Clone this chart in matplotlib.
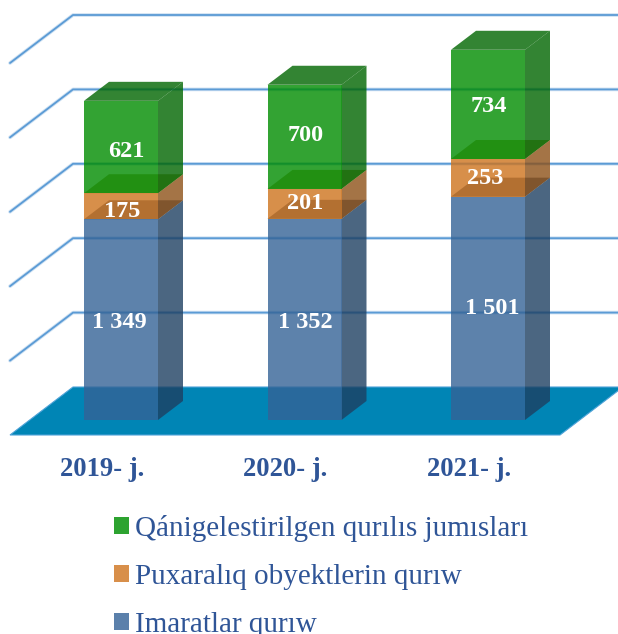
"""
Stacked 3D-look column chart of construction volumes.
"""

import matplotlib.pyplot as plt
from matplotlib.patches import Patch, Polygon

plt.rcParams['font.family'] = ['Liberation Serif', 'DejaVu Serif']

years = ['2019- j.', '2020- j.', '2021- j.']
buildings = [1349, 1352, 1501]
civil_objects = [175, 201, 253]
improvement_works = [621, 700, 734]
series_names = ['Imaratlar qurıw', 'Puxaralıq obyektlerin qurıw',
                'Qánigelestirilgen qurılıs jumısları']
grid_values = [500, 1000, 1500, 2000, 2500]

front_colors = [(52/255, 99/255, 150/255), (206/255, 115/255, 29/255), (0, 140/255, 0)]
side_colors = [(30/255, 64/255, 98/255), (142/255, 81/255, 24/255), (0, 102/255, 0)]
top_colors = [(30/255, 68/255, 100/255), (150/255, 140/255, 50/255), (0, 102/255, 0)]
legend_colors = ['#5b80ab', '#d88f4a', '#2da330']
text_blue = '#2f5597'
grid_blue = '#5b9bd5'

# Label nudges in pixels (right, up), per series then per year
label_nudges = [[(-2, -3), (1, -3), (4, 0)],
                [(1, -5), (1, 0), (-3, -1)],
                [(5, -4), (1, 1), (1, -2)]]

# Pixels per category step and per value unit
x_px = 183.5
y_px = 0.1488
bar_width = 74 / x_px
depth_x = 25 / x_px
depth_y = 19 / y_px

fig = plt.figure(figsize=(6.18, 6.34), dpi=100)
# Axes span the whole figure: x is the category index, y the value
ax = fig.add_axes([0, 0, 1, 1])
ax.set_xlim(-121 / x_px, 497 / x_px)
ax.set_ylim(-214 / y_px, 420 / y_px)
ax.axis('off')

# Floor and gridlines on the back and left walls
floor_left = -111 / x_px
floor_right = 439 / x_px
floor_front = -15 / y_px
wall_x = floor_left + 63 / x_px
wall_y = floor_front + 48 / y_px
ax.add_patch(Polygon([(floor_left, floor_front), (floor_right, floor_front),
                      (floor_right + 63 / x_px, wall_y), (wall_x, wall_y)],
                     facecolor='#0085b5', edgecolor='#4fa3d8', lw=0.8, zorder=1))
for value in grid_values:
    xs = [floor_left, wall_x, 497 / x_px]
    ys = [floor_front + value, wall_y + value, wall_y + value]
    ax.plot(xs, ys, color=grid_blue, lw=2.6, alpha=0.3, zorder=1, solid_capstyle='round')
    ax.plot(xs, ys, color=grid_blue, lw=1.3, zorder=1, solid_capstyle='round')

# Stacked boxes, lower segment first so the upper one sits over its top face
stacks = [buildings, civil_objects, improvement_works]
for i in range(len(years)):
    left = i - bar_width / 2
    right = i + bar_width / 2
    bottom = 0
    for s, values in enumerate(stacks):
        top = bottom + values[i]
        ax.add_patch(Polygon([(left, top), (right, top), (right + depth_x, top + depth_y),
                              (left + depth_x, top + depth_y)],
                             facecolor=top_colors[s], edgecolor='none', alpha=0.8, zorder=3 + s))
        ax.add_patch(Polygon([(right, bottom), (right + depth_x, bottom + depth_y),
                              (right + depth_x, top + depth_y), (right, top)],
                             facecolor=side_colors[s], edgecolor='none', alpha=0.8, zorder=3 + s))
        ax.add_patch(Polygon([(left, bottom), (right, bottom), (right, top), (left, top)],
                             facecolor=front_colors[s], edgecolor='none', alpha=0.8, zorder=3 + s))
        nudge = label_nudges[s][i]
        ax.annotate(format(values[i], ',').replace(',', ' '), (i, bottom + values[i] / 2),
                    xytext=(nudge[0] * 0.72, nudge[1] * 0.72), textcoords='offset points',
                    color='white', fontsize=17.5, fontweight='bold', ha='center', va='center', zorder=10)
        bottom = top
    ax.text(i - 19 / x_px, -49 / y_px, years[i], color=text_blue, fontsize=19.2, fontweight='bold',
            ha='center', va='center')

handles = [Patch(facecolor=legend_colors[s], edgecolor='none') for s in (2, 1, 0)]
labels = [series_names[s] for s in (2, 1, 0)]
ax.legend(handles, labels, loc='lower left', bbox_to_anchor=(102 / 618, -16 / 634),
          frameon=False, prop={'size': 21}, labelcolor=text_blue, handlelength=0.52,
          handleheight=0.52, handletextpad=0.2, labelspacing=0.765, borderpad=0.4, borderaxespad=0)

plt.savefig('out.png', dpi=100)
